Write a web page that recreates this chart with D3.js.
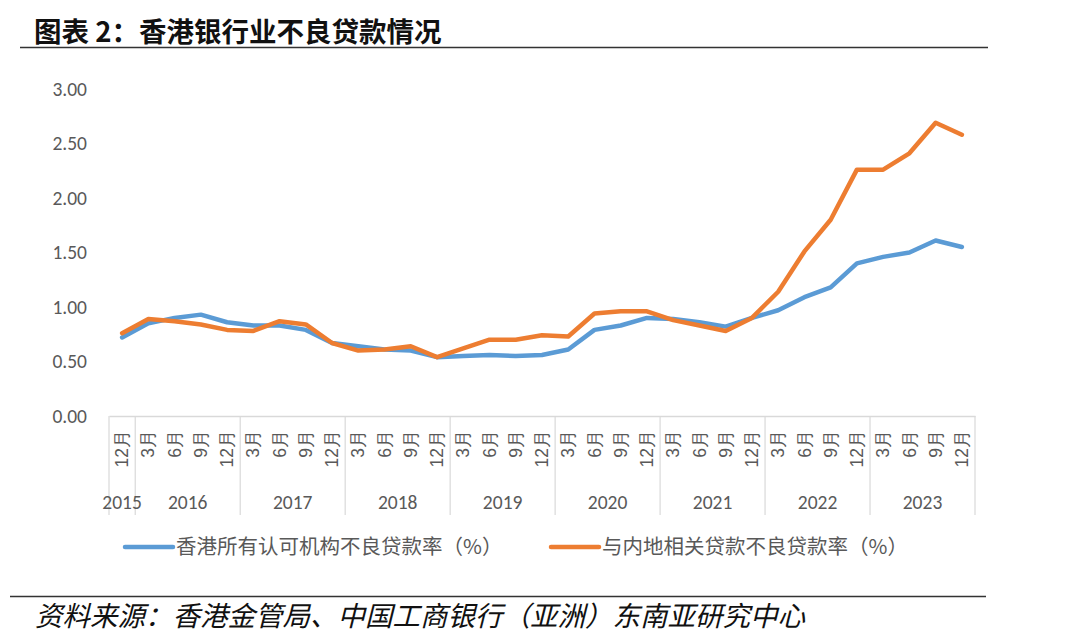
<!DOCTYPE html>
<html><head><meta charset="utf-8">
<script src="https://cdn.jsdelivr.net/npm/d3@7"></script>
<style>body{margin:0;background:#fff;}svg{display:block;font-family:"Noto Sans CJK SC","Noto Sans",sans-serif;}</style>
</head><body><svg id="c" width="1080" height="641"></svg>
<script>
const years = ["2015","2016","2017","2018","2019","2020","2021","2022","2023"];
const months = ["12月","3月","6月","9月","12月","3月","6月","9月","12月","3月","6月","9月","12月","3月","6月","9月","12月","3月","6月","9月","12月","3月","6月","9月","12月","3月","6月","9月","12月","3月","6月","9月","12月"];
const yearOf = [0,1,1,1,1,2,2,2,2,3,3,3,3,4,4,4,4,5,5,5,5,6,6,6,6,7,7,7,7,8,8,8,8];
const seriesNames = ["香港所有认可机构不良贷款率（%）","与内地相关贷款不良贷款率（%）"];
const hkAll = [0.72,0.85,0.90,0.93,0.86,0.83,0.83,0.79,0.67,0.64,0.61,0.60,0.54,0.55,0.56,0.55,0.56,0.61,0.79,0.83,0.90,0.89,0.86,0.82,0.90,0.97,1.09,1.18,1.40,1.46,1.50,1.61,1.55];
const mainland = [0.76,0.89,0.87,0.84,0.79,0.78,0.87,0.84,0.67,0.60,0.61,0.64,0.54,0.62,0.70,0.70,0.74,0.73,0.94,0.96,0.96,0.88,0.83,0.78,0.90,1.14,1.51,1.80,2.26,2.26,2.41,2.69,2.58];
const yTicks = [0,0.5,1,1.5,2,2.5,3];
const colors = ["#5B9BD5","#ED7D31"];

const svg = d3.select("#c");
const x0 = 109, x1 = 975, yTop = 89, yBot = 416;
const idx = d3.range(months.length);
const x = d3.scaleBand().domain(idx).range([x0, x1]).padding(0);
const y = d3.scaleLinear().domain([0,3]).range([yBot, yTop]);

// title
svg.append("text").attr("x",34).attr("y",42).attr("font-size",27.5).attr("font-weight","bold").attr("fill","#111").text("图表 2：香港银行业不良贷款情况");
svg.append("line").attr("x1",20).attr("x2",988).attr("y1",47.5).attr("y2",47.5).attr("stroke","#333").attr("stroke-width",1.6);

// y axis labels
const yAxis = d3.axisLeft(y).tickValues(yTicks).tickFormat(d3.format(".2f")).tickSize(0).tickPadding(0);
const ga = svg.append("g").attr("transform","translate(87,0)").call(yAxis);
ga.select(".domain").remove();
ga.selectAll("text").attr("font-size",19.5).attr("fill","#595959").attr("font-family","Carlito,Calibri,'Open Sans','Noto Sans',sans-serif");

// x axis
const xAxis = d3.axisBottom(x).tickSize(0).tickFormat(i => months[i]);
const gx = svg.append("g").attr("transform",`translate(0,${yBot})`).call(xAxis);
gx.select(".domain").attr("stroke","#d9d9d9").attr("stroke-width",1.5);
gx.selectAll("text").attr("transform","rotate(-90)").attr("text-anchor","end")
  .attr("x",-14).attr("y",0).attr("dy","0.35em").attr("font-size",17.5).attr("fill","#595959");

// group separators and year labels
const groups = years.map((yr,g) => {
  const ids = idx.filter(i => yearOf[i]===g);
  return {yr, start: x(ids[0]), end: x(ids[ids.length-1]) + x.bandwidth()};
});
const bounds = [groups[0].start].concat(groups.map(g => g.end));
svg.selectAll("line.sep").data(bounds).enter().append("line")
  .attr("x1",d=>d).attr("x2",d=>d).attr("y1",yBot).attr("y2",515)
  .attr("stroke","#d9d9d9").attr("stroke-width",1.2);
svg.selectAll("text.yr").data(groups).enter().append("text")
  .attr("x",d=>(d.start+d.end)/2).attr("y",509).attr("text-anchor","middle")
  .attr("font-size",19.5).attr("fill","#595959").attr("font-family","Carlito,Calibri,'Open Sans','Noto Sans',sans-serif").text(d=>d.yr);

// lines
const line = d3.line().x((d,i)=>x(i)+x.bandwidth()/2).y(d=>y(d));
[hkAll, mainland].forEach((s,k) => {
  svg.append("path").datum(s).attr("d",line).attr("fill","none")
    .attr("stroke",colors[k]).attr("stroke-width",4.5).attr("stroke-linejoin","round").attr("stroke-linecap","round");
});

// legend
const legX = [125, 551];
seriesNames.forEach((n,k) => {
  svg.append("line").attr("x1",legX[k]).attr("x2",legX[k]+48).attr("y1",547).attr("y2",547)
    .attr("stroke",colors[k]).attr("stroke-width",4.5).attr("stroke-linecap","round");
  svg.append("text").attr("x",legX[k]+51).attr("y",554).attr("font-size",20.5).attr("fill","#595959").text(n);
});

// footer
svg.append("line").attr("x1",10).attr("x2",986).attr("y1",596.5).attr("y2",596.5).attr("stroke","#333").attr("stroke-width",1.6);
svg.append("text").attr("x",35).attr("y",626).attr("font-size",27.5).attr("font-style","italic").attr("fill","#111")
  .text("资料来源：香港金管局、中国工商银行（亚洲）东南亚研究中心");
</script></body></html>
